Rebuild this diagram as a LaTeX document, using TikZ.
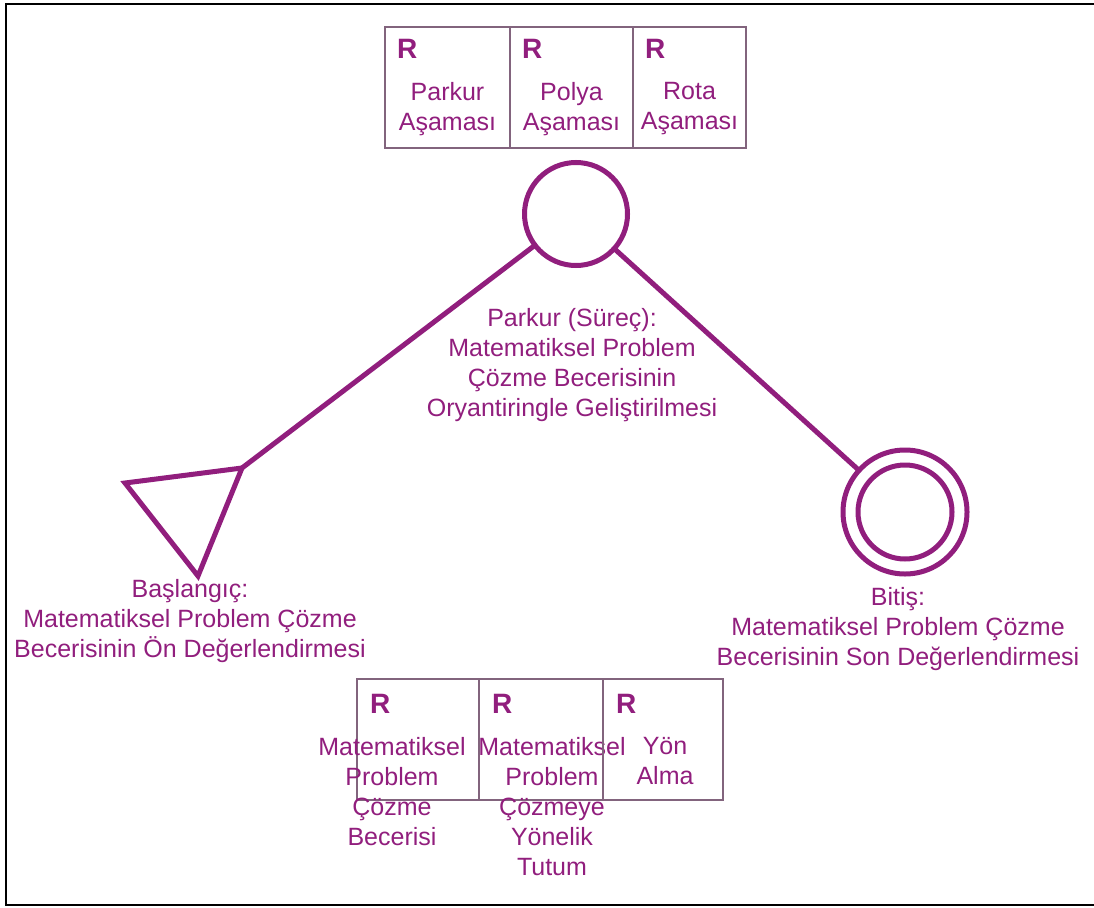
\documentclass[tikz,border=0pt]{standalone}
\usepackage{fontspec}
\setmainfont{Liberation Sans}
\definecolor{mor}{RGB}{145,30,125}
\definecolor{kutu}{RGB}{130,100,125}
\begin{document}
\begin{tikzpicture}[x=1pt,y=-1pt,
    every node/.style={inner sep=0,outer sep=0,text=mor,font=\fontsize{25}{30}\selectfont},
    hucre/.style={draw=kutu,line width=1.5pt,minimum height=121pt},
    harf/.style={anchor=north west,font=\fontsize{28}{30}\selectfont\bfseries},
    yazi/.style={anchor=north,align=center},
    hat/.style={draw=mor,line width=5pt}]
    \useasboundingbox(0,0)rectangle(1094,907);
    \draw[line width=2pt](6,4)rectangle(1098,905);
    \foreach \n/\cx/\w/\txt in {1/447.5/125/{Parkur\\Aşaması},2/571.5/123/{Polya\\Aşaması},3/689.5/113/{Rota\\Aşaması}}{
    \node[hucre,minimum width=\w pt](u\n)at(\cx,87.5){};
    \node[harf](ur\n)at([xshift=12pt,yshift=-12pt]u\n.north west){R};
    \node[yazi](uy\n)at(\cx,82){\txt};}
    \node[hat,circle,minimum size=103pt](parkur)at(576,214){};
    \node[hat,circle,minimum size=124pt](bitis)at(905,512){};
    \draw[hat](bitis.center)circle[radius=47pt];
    \coordinate(b1)at(125,483);
    \coordinate(b2)at(242,468);
    \coordinate(b3)at(198,576);
    \draw[hat](b1)--(b2)--(b3)--cycle;
    \draw[hat](parkur)--(b2);
    \draw[hat](parkur)--(bitis);
    \node[yazi](surec)at(572,308){Parkur (Süreç):\\Matematiksel Problem\\Çözme Becerisinin\\Oryantiringle Geliştirilmesi};
    \node[yazi](baslangic)at(190,579){Başlangıç:\\Matematiksel Problem Çözme\\Becerisinin Ön Değerlendirmesi};
    \node[yazi](son)at(898,587){Bitiş:\\Matematiksel Problem Çözme\\Becerisinin Son Değerlendirmesi};
    \foreach \n/\cx/\w/\tx/\txt in {1/418/122/392/{Matematiksel\\Problem\\Çözme\\Becerisi},2/541/124/552/{Matematiksel\\Problem\\Çözmeye\\Yönelik\\Tutum},3/663/120/665/{Yön\\Alma}}{
    \node[hucre,minimum width=\w pt](a\n)at(\cx,739.5){};
    \node[harf](ar\n)at([xshift=13pt,yshift=-15pt]a\n.north west){R};
    \node[yazi](ay\n)at(\tx,737){\txt};}
\end{tikzpicture}
\end{document}
